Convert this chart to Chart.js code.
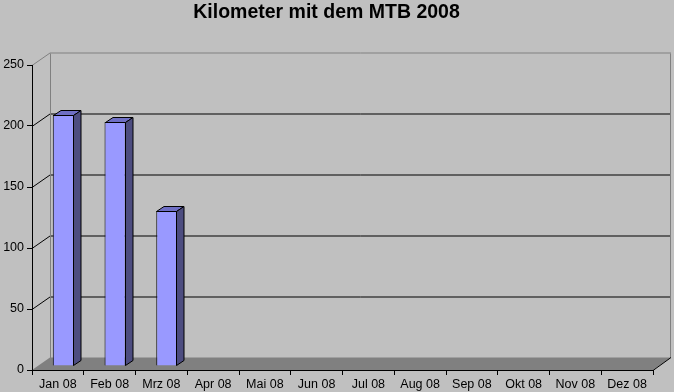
<!DOCTYPE html>
<html>
<head>
<meta charset="utf-8">
<script src="https://cdn.jsdelivr.net/npm/chart.js@4/dist/chart.umd.min.js"></script>
<style>
  html, body { margin: 0; padding: 0; background: #c0c0c0; }
  #wrap { width: 674px; height: 392px; }
</style>
</head>
<body>
<div id="wrap"><canvas id="mtbChart" width="674" height="392"></canvas></div>
<script>
var months = ['Jan 08', 'Feb 08', 'Mrz 08', 'Apr 08', 'Mai 08', 'Jun 08',
              'Jul 08', 'Aug 08', 'Sep 08', 'Okt 08', 'Nov 08', 'Dez 08'];
var kilometer = [206, 200, 127, null, null, null, null, null, null, null, null, null];
var yTicks = [0, 50, 100, 150, 200, 250];

// 3d look of the old excel chart
var DEPTH_X = 18, DEPTH_Y = -12.5;      // back wall offset
var BAR_X = 5.5, BAR_Y = -4;            // bar front plane offset
var BAR_DX = 7.5, BAR_DY = -5;          // bar depth

var walls = {
  id: 'walls',
  beforeDraw: function (chart) {
    var c = chart.ctx, a = chart.chartArea, ys = chart.scales.y;
    var l = a.left, r = a.right, t = a.top, b = a.bottom;
    c.save();
    c.lineWidth = 1;
    // floor
    c.fillStyle = '#808080';
    c.beginPath();
    c.moveTo(l, b);
    c.lineTo(r, b);
    c.lineTo(r + DEPTH_X, b + DEPTH_Y);
    c.lineTo(l + DEPTH_X, b + DEPTH_Y);
    c.closePath();
    c.fill();
    // gridlines on back and side wall
    yTicks.forEach(function (v) {
      if (v === 0) return;
      var y = Math.round(ys.getPixelForValue(v)) + 0.5;
      c.strokeStyle = v === 250 ? '#808080' : '#000';
      c.beginPath();
      c.moveTo(l, y);
      c.lineTo(l + DEPTH_X, y + DEPTH_Y);
      c.lineTo(r + DEPTH_X, y + DEPTH_Y);
      c.stroke();
    });
    // wall edges
    var yt = Math.round(t + DEPTH_Y) + 0.5, yb = Math.round(b + DEPTH_Y);
    c.strokeStyle = '#808080';
    c.beginPath();
    c.moveTo(l + DEPTH_X + 0.5, yt);
    c.lineTo(l + DEPTH_X + 0.5, yb);
    c.moveTo(r + DEPTH_X - 0.5, yt);
    c.lineTo(r + DEPTH_X - 0.5, yb);
    c.stroke();
    // right floor edge
    c.strokeStyle = '#000';
    c.beginPath();
    c.moveTo(r, b + 0.5);
    c.lineTo(r + DEPTH_X, b + DEPTH_Y);
    c.stroke();
    c.restore();
  },
  beforeDatasetsDraw: function (chart) {
    chart.ctx.save();
    chart.ctx.translate(BAR_X, BAR_Y);
  },
  afterDatasetsDraw: function (chart) {
    var c = chart.ctx;
    c.restore();
    var meta = chart.getDatasetMeta(0);
    c.save();
    c.lineWidth = 1;
    c.strokeStyle = '#000';
    meta.data.forEach(function (bar, i) {
      if (kilometer[i] == null) return;
      var p = bar.getProps(['x', 'y', 'base', 'width'], true);
      var left = Math.round(p.x - p.width / 2 + BAR_X) + 0.5;
      var right = Math.round(p.x + p.width / 2 + BAR_X) - 0.5;
      var top = Math.round(p.y + BAR_Y) + 0.5;
      var bottom = Math.round(p.base + BAR_Y) - 0.5;
      // top face
      c.fillStyle = '#6f6fc4';
      c.beginPath();
      c.moveTo(left, top);
      c.lineTo(left + BAR_DX, top + BAR_DY);
      c.lineTo(right + BAR_DX, top + BAR_DY);
      c.lineTo(right, top);
      c.closePath();
      c.fill();
      c.stroke();
      // side face
      c.fillStyle = '#4d4d80';
      c.beginPath();
      c.moveTo(right, top);
      c.lineTo(right + BAR_DX, top + BAR_DY);
      c.lineTo(right + BAR_DX, bottom + BAR_DY);
      c.lineTo(right, bottom);
      c.closePath();
      c.fill();
      c.stroke();
    });
    c.restore();
  }
};

var ctx = document.getElementById('mtbChart').getContext('2d');
var myChart = new Chart(ctx, {
  type: 'bar',
  data: {
    labels: months,
    datasets: [{
      label: 'Kilometer',
      data: kilometer,
      backgroundColor: '#9999ff',
      borderColor: '#000',
      borderWidth: 1,
      barPercentage: 0.41,
      categoryPercentage: 1
    }]
  },
  options: {
    responsive: false,
    animation: false,
    layout: { padding: { left: 0, right: 21, top: 0, bottom: 0 } },
    plugins: {
      legend: { display: false },
      tooltip: { enabled: false },
      title: {
        display: true,
        text: 'Kilometer mit dem MTB 2008',
        color: '#000',
        font: { family: '"Liberation Sans", Arial, sans-serif', size: 19.5, weight: 'bold' },
        padding: { top: 1, bottom: 40.6 }
      }
    },
    scales: {
      x: {
        grid: { display: true, drawOnChartArea: false, offset: true, tickLength: 5, color: '#000' },
        border: { display: true, color: '#000', width: 1 },
        ticks: {
          color: '#000', padding: 2, maxRotation: 0, autoSkip: false,
          font: { family: '"Liberation Sans", Arial, sans-serif', size: 12.5 }
        },
        afterFit: function (s) { s.height = 22; }
      },
      y: {
        min: 0,
        max: 250,
        afterBuildTicks: function (s) { s.ticks = yTicks.map(function (v) { return { value: v }; }); },
        grid: { display: true, drawOnChartArea: false, tickLength: 5, color: '#000' },
        border: { display: true, color: '#000', width: 1 },
        ticks: {
          color: '#000', padding: 3,
          font: { family: '"Liberation Sans", Arial, sans-serif', size: 12.5 }
        },
        afterFit: function (s) { s.width = 32; }
      }
    }
  },
  plugins: [walls]
});
</script>
</body>
</html>
